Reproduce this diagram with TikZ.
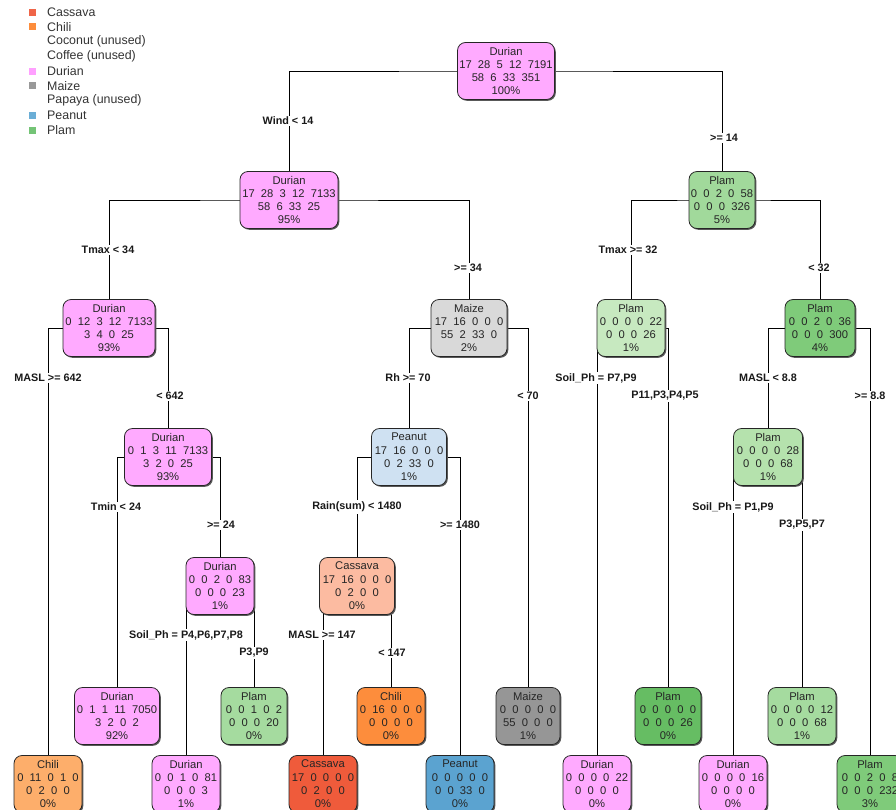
\documentclass[tikz,border=0pt]{standalone}
\usepackage{fontspec}
\setmainfont{Liberation Sans}
\usetikzlibrary{backgrounds,shadows}

% class colours (light = mixed node, dark = purer node)
\definecolor{durian}{HTML}{FFAAFF}
\definecolor{maizeL}{HTML}{D9D9D9}
\definecolor{maizeD}{HTML}{969696}
\definecolor{peanutL}{HTML}{CFE1F2}
\definecolor{peanutD}{HTML}{5BA3D0}
\definecolor{cassavaL}{HTML}{FCBBA1}
\definecolor{cassavaD}{HTML}{EF5B3B}
\definecolor{chiliL}{HTML}{FDAE6B}
\definecolor{chiliD}{HTML}{FD8D3C}
\definecolor{plamA}{HTML}{A1D99B}
\definecolor{plamB}{HTML}{C7E9C0}
\definecolor{plamC}{HTML}{7FCB7A}
\definecolor{plamD}{HTML}{B5E2AD}
\definecolor{plamE}{HTML}{A5DB9F}
\definecolor{plamF}{HTML}{66BD63}
\definecolor{legCassava}{HTML}{EF6548}
\definecolor{legDurian}{HTML}{FFA0FF}
\definecolor{legMaize}{HTML}{999999}
\definecolor{legPeanut}{HTML}{6BAED6}
\definecolor{legPlam}{HTML}{74C476}

\tikzset{
  rbox/.style={draw=black!85, line width=0.8pt, rounded corners=8pt,
    minimum height=57pt, inner sep=0pt,
    drop shadow={shadow xshift=1.3pt, shadow yshift=-1.3pt, fill=black!65, opacity=1}},
  rtext/.style={align=center, inner sep=0pt, text=black!85,
    font=\fontsize{11.2}{13.3}\selectfont},
  split/.style={fill=white, inner sep=1.5pt, text=black!90,
    font=\bfseries\fontsize{10.8}{13}\selectfont},
  edge/.style={draw=black, line width=1pt},
  legsq/.style={minimum size=7pt, inner sep=0pt},
  legtext/.style={anchor=west, inner sep=0pt, text=black!80,
    font=\fontsize{12.4}{13}\selectfont},
}

% name, x, y, width, fill, text
\newcommand{\treenode}[6]{%
  \node[rbox, fill=#5, minimum width=#4pt] (#1) at (#2,#3) {};
  \node[rtext] (#1t) at (#1.center) {#6};}

\begin{document}
\begin{tikzpicture}[x=1pt, y=-1pt]
\path[use as bounding box, clip] (0,0) rectangle (896,809);

% legend
\node[legsq, fill=legCassava] (ls1) at (32,12) {};
\node[legtext] (lt1) at (47,12) {Cassava};
\node[legsq, fill=chiliD] (ls2) at (32,26.7) {};
\node[legtext] (lt2) at (47,26.7) {Chili};
\node[legtext] (lt3) at (47,41.5) {Coconut (unused)};
\node[legtext] (lt4) at (47,56.2) {Coffee (unused)};
\node[legsq, fill=legDurian] (ls5) at (32,71) {};
\node[legtext] (lt5) at (47,71) {Durian};
\node[legsq, fill=legMaize] (ls6) at (32,85.7) {};
\node[legtext] (lt6) at (47,85.7) {Maize};
\node[legtext] (lt7) at (47,100.5) {Papaya (unused)};
\node[legsq, fill=legPeanut] (ls8) at (32,115.2) {};
\node[legtext] (lt8) at (47,115.2) {Peanut};
\node[legsq, fill=legPlam] (ls9) at (32,130) {};
\node[legtext] (lt9) at (47,130) {Plam};

% tree nodes
\treenode{n1}{506}{71}{97}{durian}{Durian\\17~~28~~5~~12~~7191\\58~~6~~33~~351\\100\%}
\treenode{n2}{289}{200}{98}{durian}{Durian\\17~~28~~3~~12~~7133\\58~~6~~33~~25\\95\%}
\treenode{n3}{722}{200}{66}{plamA}{Plam\\0~~0~~2~~0~~58\\0~~0~~0~~326\\5\%}
\treenode{n4}{109}{328}{92}{durian}{Durian\\0~~12~~3~~12~~7133\\3~~4~~0~~25\\93\%}
\treenode{n5}{469}{328}{76}{maizeL}{Maize\\17~~16~~0~~0~~0\\55~~2~~33~~0\\2\%}
\treenode{n6}{631}{328}{68}{plamB}{Plam\\0~~0~~0~~0~~22\\0~~0~~0~~26\\1\%}
\treenode{n7}{820}{328}{70}{plamC}{Plam\\0~~0~~2~~0~~36\\0~~0~~0~~300\\4\%}
\treenode{n8}{168}{457}{87}{durian}{Durian\\0~~1~~3~~11~~7133\\3~~2~~0~~25\\93\%}
\treenode{n9}{409}{457}{75}{peanutL}{Peanut\\17~~16~~0~~0~~0\\0~~2~~33~~0\\1\%}
\treenode{n10}{768}{457}{69}{plamD}{Plam\\0~~0~~0~~0~~28\\0~~0~~0~~68\\1\%}
\treenode{n11}{220}{586}{68}{durian}{Durian\\0~~0~~2~~0~~83\\0~~0~~0~~23\\1\%}
\treenode{n12}{357}{586}{75}{cassavaL}{Cassava\\17~~16~~0~~0~~0\\0~~2~~0~~0\\0\%}
% leaves, upper row
\treenode{n13}{117}{716}{85}{durian}{Durian\\0~~1~~1~~11~~7050\\3~~2~~0~~2\\92\%}
\treenode{n14}{254}{716}{66}{plamE}{Plam\\0~~0~~1~~0~~2\\0~~0~~0~~20\\0\%}
\treenode{n15}{391}{716}{68}{chiliD}{Chili\\0~~16~~0~~0~~0\\0~~0~~0~~0\\0\%}
\treenode{n16}{528}{716}{64}{maizeD}{Maize\\0~~0~~0~~0~~0\\55~~0~~0~~0\\1\%}
\treenode{n17}{668}{716}{66}{plamF}{Plam\\0~~0~~0~~0~~0\\0~~0~~0~~26\\0\%}
\treenode{n18}{802}{716}{68}{plamE}{Plam\\0~~0~~0~~0~~12\\0~~0~~0~~68\\1\%}
% leaves, lower row
\treenode{n19}{48}{784}{68}{chiliL}{Chili\\0~~11~~0~~1~~0\\0~~2~~0~~0\\0\%}
\treenode{n20}{186}{784}{68}{durian}{Durian\\0~~0~~1~~0~~81\\0~~0~~0~~3\\1\%}
\treenode{n21}{323}{784}{68}{cassavaD}{Cassava\\17~~0~~0~~0~~0\\0~~2~~0~~0\\0\%}
\treenode{n22}{460}{784}{68}{peanutD}{Peanut\\0~~0~~0~~0~~0\\0~~0~~33~~0\\0\%}
\treenode{n23}{597}{784}{68}{durian}{Durian\\0~~0~~0~~0~~22\\0~~0~~0~~0\\0\%}
\treenode{n24}{733}{784}{68}{durian}{Durian\\0~~0~~0~~0~~16\\0~~0~~0~~0\\0\%}
\treenode{n25}{870}{784}{66}{plamC}{Plam\\0~~0~~2~~0~~8\\0~~0~~0~~232\\3\%}

% branches
\begin{scope}[on background layer]
\draw[edge] (n2.center) |- (n1.center) -| (n3.center);
\draw[edge] (n4.center) |- (n2.center) -| (n5.center);
\draw[edge] (n6.center) |- (n3.center) -| (n7.center);
\draw[edge] (n19.center) |- (n4.center) -| (n8.center);
\draw[edge] (n9.center) |- (n5.center) -| (n16.center);
\draw[edge] (n23.center) |- (n6.center) -| (n17.center);
\draw[edge] (n10.center) |- (n7.center) -| (n25.center);
\draw[edge] (n13.center) |- (n8.center) -| (n11.center);
\draw[edge] (n12.center) |- (n9.center) -| (n22.center);
\draw[edge] (n24.center) |- (n10.center) -| (n18.center);
\draw[edge] (n20.center) |- (n11.center) -| (n14.center);
\draw[edge] (n21.center) |- (n12.center) -| (n15.center);
\end{scope}

% split conditions
\node[split] (s1l) at (288,121) {Wind < 14};
\node[split] (s1r) at (724,138) {>= 14};
\node[split] (s2l) at (108,250) {Tmax < 34};
\node[split] (s2r) at (468,268) {>= 34};
\node[split] (s3l) at (628,250) {Tmax >= 32};
\node[split] (s3r) at (819,268) {< 32};
\node[split] (s4l) at (48,378) {MASL >= 642};
\node[split] (s4r) at (170,396) {< 642};
\node[split] (s5l) at (408,378) {Rh >= 70};
\node[split] (s5r) at (528,396) {< 70};
\node[split] (s6l) at (596,378) {Soil\_Ph = P7,P9};
\node[split] (s6r) at (665,396) {P11,P3,P4,P5};
\node[split] (s7l) at (768,378) {MASL < 8.8};
\node[split] (s7r) at (870,396) {>= 8.8};
\node[split] (s8l) at (116,507) {Tmin < 24};
\node[split] (s8r) at (221,525) {>= 24};
\node[split] (s9l) at (357,507) {Rain(sum) < 1480};
\node[split] (s9r) at (460,525) {>= 1480};
\node[split] (s10l) at (733,507) {Soil\_Ph = P1,P9};
\node[split] (s10r) at (802,525) {P3,P5,P7};
\node[split] (s11l) at (186,635) {Soil\_Ph = P4,P6,P7,P8};
\node[split] (s11r) at (254,653) {P3,P9};
\node[split] (s12l) at (322,635) {MASL >= 147};
\node[split] (s12r) at (392,653) {< 147};
\end{tikzpicture}
\end{document}
